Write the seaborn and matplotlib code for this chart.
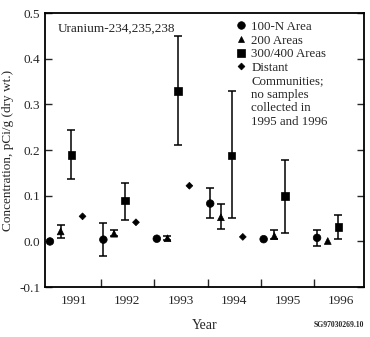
import numpy as np
import pandas as pd
import matplotlib
matplotlib.use("Agg")
import matplotlib.pyplot as plt
from matplotlib.lines import Line2D
import seaborn as sns

years = [1991, 1992, 1993, 1994, 1995, 1996]
series = ["100-N Area", "200 Areas", "300/400 Areas", "Distant"]
legend_extra = ["Communities;", "no samples", "collected in", "1995 and 1996"]

n100_val = [0.000, 0.004, 0.006, 0.083, 0.005, 0.008]
n100_lo = [np.nan, -0.032, np.nan, 0.052, np.nan, -0.010]
n100_hi = [np.nan, 0.041, np.nan, 0.116, np.nan, 0.026]

a200_val = [0.022, 0.017, 0.007, 0.053, 0.012, 0.001]
a200_lo = [0.008, 0.011, 0.003, 0.028, 0.006, np.nan]
a200_hi = [0.035, 0.025, 0.011, 0.081, 0.026, np.nan]

a300_val = [0.190, 0.090, 0.329, 0.188, 0.099, 0.032]
a300_lo = [0.136, 0.047, 0.211, 0.052, 0.019, 0.006]
a300_hi = [0.244, 0.128, 0.451, 0.329, 0.178, 0.057]

dist_val = [0.055, 0.042, 0.122, 0.010, np.nan, np.nan]

offsets = [-0.45, -0.25, -0.05, 0.16]
markers = ["o", "^", "s", "D"]
msizes = [30, 24, 30, 12]

sns.set_style("ticks")
plt.rcParams["font.family"] = ["Liberation Serif", "DejaVu Serif"]

vals = [n100_val, a200_val, a300_val, dist_val]
los = [n100_lo, a200_lo, a300_lo, [np.nan] * 6]
his = [n100_hi, a200_hi, a300_hi, [np.nan] * 6]

rows = []
for s, name in enumerate(series):
    for i, y in enumerate(years):
        rows.append({"x": y + offsets[s], "value": vals[s][i], "lo": los[s][i],
                     "hi": his[s][i], "series": name})
df = pd.DataFrame(rows)

fig = plt.figure(figsize=(3.70, 3.37), dpi=100)
ax = fig.add_axes([0.122, 0.148, 0.862, 0.813])

for s, name in enumerate(series):
    d = df[(df["series"] == name) & df["lo"].notna()]
    if len(d):
        ax.errorbar(d["x"], d["value"],
                    yerr=[d["value"] - d["lo"], d["hi"] - d["value"]],
                    fmt="none", ecolor="black", elinewidth=1.1, capsize=3.0,
                    capthick=1.1, zorder=2)

sns.scatterplot(data=df.dropna(subset=["value"]), x="x", y="value", style="series",
                markers=dict(zip(series, markers)), size="series",
                sizes=dict(zip(series, msizes)), color="black", edgecolor="black",
                linewidth=0.5, ax=ax, zorder=3, legend=True)

ax.set_xlim(1990.46, 1996.43)
ax.set_ylim(-0.1, 0.5)
ax.set_yticks([-0.1, 0.0, 0.1, 0.2, 0.3, 0.4, 0.5])
ax.set_yticklabels(["-0.1", "0.0", "0.1", "0.2", "0.3", "0.4", "0.5"])
ax.set_xticks([y + 0.5 for y in years[:-1]])
ax.set_xticklabels([])
ax.set_xticks(years, minor=True)
ax.set_xticklabels([str(y) for y in years], minor=True)
ax.tick_params(axis="x", which="major", direction="in", length=6, width=1)
ax.tick_params(axis="x", which="minor", length=0, pad=6, labelsize=9.5)
ax.tick_params(axis="y", direction="in", length=5, width=1, labelsize=9.5,
               right=True, labelright=False)
for sp in ax.spines.values():
    sp.set_linewidth(1.3)
    sp.set_color("black")

ax.set_xlabel("Year", fontsize=10, labelpad=8)
ax.set_ylabel("Concentration, pCi/g (dry wt.)", fontsize=9.5)
ax.text(0.04, 0.965, "Uranium-234,235,238", transform=ax.transAxes,
        fontsize=9.5, va="top", ha="left")

handles, labels = ax.get_legend_handles_labels()
hl = [(h, l) for h, l in zip(handles, labels) if l in series]
blank = [Line2D([], [], linestyle="none", marker=None) for _ in legend_extra]
leg = ax.legend([h for h, l in hl] + blank, [l for h, l in hl] + legend_extra,
                loc="upper left", bbox_to_anchor=(0.57, 1.0), frameon=False,
                fontsize=9.3, handletextpad=0.3, labelspacing=0.12,
                handlelength=1.0, borderaxespad=0.2)

fig.text(0.985, 0.035, "SG97030269.10", fontsize=5.5, ha="right", va="center",
         fontweight="bold")

fig.savefig("out.png", dpi=100)
